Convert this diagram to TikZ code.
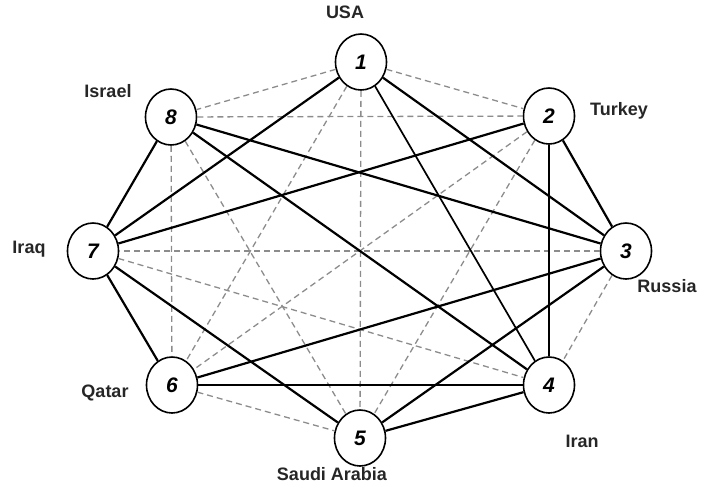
\documentclass[tikz,border=0pt]{standalone}
\usepackage{fontspec}
\setmainfont{Liberation Sans}
\usetikzlibrary{shapes.geometric}
\tikzset{
	country/.style = {
		shape=ellipse,
		draw,
		line width=1.6pt,
		fill=white,
		minimum width=51pt,
		minimum height=56pt,
		inner sep=0pt,
		font=\fontsize{21}{23}\selectfont\bfseries\itshape
	},
	place/.style = {
		font=\fontsize{18}{20}\selectfont\bfseries,
		text=black!85,
		inner sep=0pt
	},
	ally/.style = {line width=2.2pt},
	rival/.style = {line width=1.3pt, draw=black!45, dash pattern=on 6pt off 4pt}
}

\begin{document}
\begin{tikzpicture}[x=1pt,y=-1pt]
				\useasboundingbox (0,0) rectangle (712,491);
				\node[country] (n1) at (361,62) {1};
				\node[country] (n2) at (549,116) {2};
				\node[country] (n3) at (626,251) {3};
				\node[country] (n4) at (549,385) {4};
				\node[country] (n5) at (360,438) {5};
				\node[country] (n6) at (172,385) {6};
				\node[country] (n7) at (93,251) {7};
				\node[country] (n8) at (171,117) {8};

				\node[place] (usa) at (345,12) {USA};
				\node[place] (turkey) at (619,111) {Turkey};
				\node[place] (russia) at (667,286) {Russia};
				\node[place] (iran) at (582,441) {Iran};
				\node[place] (saudi) at (332,474) {Saudi Arabia};
				\node[place] (qatar) at (105,393) {Qatar};
				\node[place] (iraq) at (29,249) {Iraq};
				\node[place] (israel) at (108,91) {Israel};

				% dashed ties
				\draw[rival] (n1) -- (n8);
				\draw[rival] (n1) -- (n2);
				\draw[rival] (n1) -- (n5);
				\draw[rival] (n1) -- (n6);
				\draw[rival] (n8) -- (n2);
				\draw[rival] (n8) -- (n6);
				\draw[rival] (n8) -- (n5);
				\draw[rival] (n2) -- (n6);
				\draw[rival] (n2) -- (n5);
				\draw[rival] (n3) -- (n7);
				\draw[rival] (n3) -- (n4);
				\draw[rival] (n7) -- (n4);
				\draw[rival] (n6) -- (n5);

				% solid ties
				\draw[ally] (n1) -- (n7);
				\draw[ally] (n1) -- (n3);
				\draw[ally, line width=1.7pt] (n1) -- (n4);
				\draw[ally] (n8) -- (n3);
				\draw[ally] (n8) -- (n4);
				\draw[ally] (n8) -- (n7);
				\draw[ally] (n2) -- (n7);
				\draw[ally] (n2) -- (n3);
				\draw[ally] (n2) -- (n4);
				\draw[ally] (n3) -- (n6);
				\draw[ally] (n3) -- (n5);
				\draw[ally] (n7) -- (n6);
				\draw[ally] (n7) -- (n5);
				\draw[ally] (n6) -- (n4);
				\draw[ally] (n5) -- (n4);
\end{tikzpicture}
\end{document}
